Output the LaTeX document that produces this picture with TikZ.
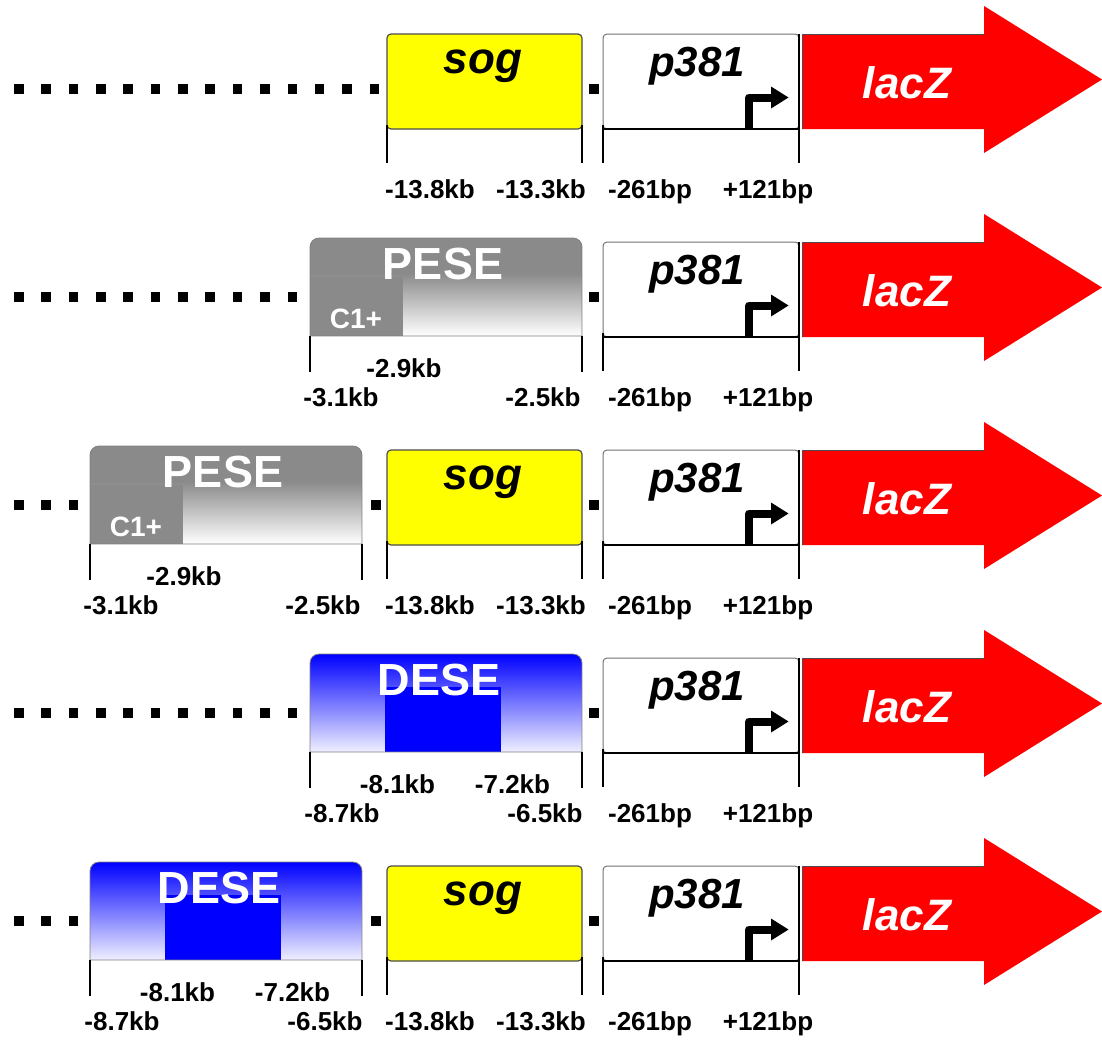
\documentclass[tikz,border=0pt]{standalone}
\usepackage{fontspec}
\setmainfont{Liberation Sans}
\definecolor{peseg}{RGB}{138,138,138}
\definecolor{lacred}{RGB}{255,0,0}
\definecolor{sogy}{RGB}{255,255,0}
\definecolor{desebl}{RGB}{0,0,255}
\pgfdeclareverticalshading{peseshade}{100bp}{color(0bp)=(white); color(25bp)=(white); color(57bp)=(peseg); color(100bp)=(peseg)}
\tikzset{
  lbl/.style={font=\bfseries\fontsize{26}{28}\selectfont, inner sep=0pt, anchor=base},
  gname/.style={font=\bfseries\itshape\fontsize{44}{48}\selectfont, inner sep=0pt, anchor=base},
  pname/.style={font=\bfseries\itshape\fontsize{42}{46}\selectfont, inner sep=0pt, anchor=base},
  ename/.style={font=\bfseries\fontsize{45}{48}\selectfont, text=white, inner sep=0pt, anchor=base},
  cname/.style={font=\bfseries\fontsize{28}{30}\selectfont, text=white, inner sep=0pt, anchor=base},
  tickline/.style={line width=2.6pt, black},
  sogbox/.style={fill=sogy, draw=black!70, line width=1.2pt, rounded corners=4pt},
  prombox/.style={fill=white, draw=black!55, line width=1pt, rounded corners=4pt},
  tabline/.style={draw=black!50, line width=0.8pt},
}
\newcommand\tabpath[4]{(#1,#2+#4) -- (#1,#2+9) arc[start angle=180,end angle=270,radius=9] -- (#1+#3-9,#2) arc[start angle=270,end angle=360,radius=9] -- (#1+#3,#2+#4) -- cycle}
\newcommand\drawdots[1]{\foreach \k in {0,...,#1} \fill (14+27.35*\k,84) rectangle ++(9.5,10);}
\newcommand\sepsq[1]{\fill (#1,84) rectangle ++(10,10);}
\newcommand\drawsog[1]{%
  \draw[sogbox] (387,34) rectangle (582,129);
  \node[gname] (sog#1) at (483,73) {sog};
  \draw[tickline] (387,125) -- (387,163);
  \draw[tickline] (582,125) -- (582,163);
  \node[lbl] (sogA#1) at (430,198) {-13.8kb};
  \node[lbl] (sogB#1) at (541,198) {-13.3kb};
}
\newcommand\drawprom[1]{%
  \draw[prombox] (603,34) rectangle (799,129);
  \draw[line width=2pt] (604,128.5) -- (798,128.5);
  \node[pname] (p#1) at (697,76) {p381};
  \draw[line width=8pt, line join=round] (749,129) -- (749,97.5) -- (773,97.5);
  \fill (771,86.5) -- (788.5,97.5) -- (771,108.5) -- cycle;
  \draw[tickline] (603,125) -- (603,163);
  \draw[tickline] (799,34) -- (799,163);
  \node[lbl] (pA#1) at (650,198) {-261bp};
  \node[lbl] (pB#1) at (768,198) {+121bp};
}
\newcommand\drawlacz[1]{%
  \fill[lacred] (802,34) -- (984,34) -- (984,6) -- (1102,79.5) -- (984,153) -- (984,129) -- (802,129) -- cycle;
  \draw[black!70, line width=1pt] (802.5,129) -- (802.5,34.5) -- (984,34.5);
  \node[gname, text=white] (lacz#1) at (907,98) {lacZ};
}
\newcommand\drawpese[2]{%
  \begin{scope}
    \clip \tabpath{#1}{30}{272}{98};
    \shade[shading=peseshade] (#1,30) rectangle ++(272,98);
    \fill[peseg] (#1,69) rectangle ++(93,59);
  \end{scope}
  \path[tabline] \tabpath{#1}{30}{272}{98};
  \node[ename] (pese#2) at (#1+133,71) {PESE};
  \node[cname] (c#2) at (#1+46,120.5) {C1+};
  \draw[tickline] (#1,128) -- (#1,164);
  \draw[tickline] (#1+272,128) -- (#1+272,164);
  \node[lbl] (peseA#2) at (#1+94,169) {-2.9kb};
  \node[lbl] (peseB#2) at (#1+31,198) {-3.1kb};
  \node[lbl] (peseC#2) at (#1+233,198) {-2.5kb};
}
\newcommand\drawdese[2]{%
  \begin{scope}
    \clip \tabpath{#1}{30}{272}{98};
    \shade[top color=desebl, bottom color=desebl!5] (#1,30) rectangle ++(272,99);
    \fill[desebl] (#1+75,63) rectangle (#1+191,128);
  \end{scope}
  \path[tabline] \tabpath{#1}{30}{272}{98};
  \node[ename] (dese#2) at (#1+129,71) {DESE};
  \draw[tickline] (#1,128) -- (#1,164);
  \draw[tickline] (#1+272,128) -- (#1+272,164);
  \node[lbl] (deseA#2) at (#1+87.5,169) {-8.1kb};
  \node[lbl] (deseB#2) at (#1+202.5,169) {-7.2kb};
  \node[lbl] (deseC#2) at (#1+32,198) {-8.7kb};
  \node[lbl] (deseD#2) at (#1+235,198) {-6.5kb};
}
\begin{document}
\begin{tikzpicture}[x=1pt,y=-1pt]
\useasboundingbox (0,0) rectangle (1102,1039);
% row 1
\begin{scope}
  \drawdots{13}
  \drawsog{a}
  \sepsq{588.5}
  \drawprom{a}
  \drawlacz{a}
\end{scope}
% row 2
\begin{scope}[yshift=-208pt]
  \drawdots{10}
  \drawpese{310}{b}
  \sepsq{588.5}
  \drawprom{b}
  \drawlacz{b}
\end{scope}
% row 3
\begin{scope}[yshift=-416pt]
  \drawdots{2}
  \drawpese{90}{c}
  \sepsq{370.5}
  \drawsog{c}
  \sepsq{588.5}
  \drawprom{c}
  \drawlacz{c}
\end{scope}
% row 4
\begin{scope}[yshift=-624pt]
  \drawdots{10}
  \drawdese{310}{d}
  \sepsq{588.5}
  \drawprom{d}
  \drawlacz{d}
\end{scope}
% row 5
\begin{scope}[yshift=-832pt]
  \drawdots{2}
  \drawdese{90}{e}
  \sepsq{370.5}
  \drawsog{e}
  \sepsq{588.5}
  \drawprom{e}
  \drawlacz{e}
\end{scope}
\end{tikzpicture}
\end{document}
